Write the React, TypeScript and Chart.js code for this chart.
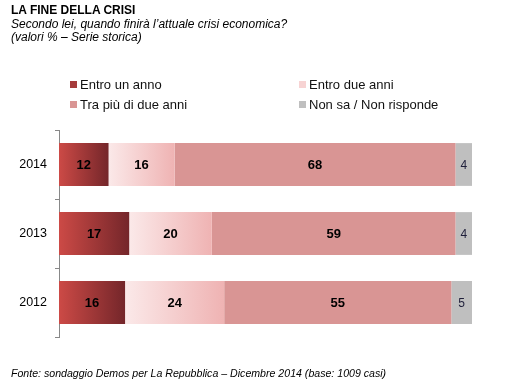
import React, { useEffect, useRef } from "react";
import { Chart, registerables } from "chart.js";

Chart.register(...registerables);

const years = ["2014", "2013", "2012"];
const entroUnAnno = [12, 17, 16];
const entroDueAnni = [16, 20, 24];
const traPiuDiDueAnni = [68, 59, 55];
const nonSa = [4, 4, 5];

const seriesNames = ["Entro un anno", "Entro due anni", "Tra più di due anni", "Non sa / Non risponde"];
const legendColors = ["#a53b3b", "#f7d3d3", "#d99594", "#bfbfbf"];

const FONT = "Arial, 'Liberation Sans', sans-serif";

function gradientFill(stops: [string, string] | null, solid: string) {
  return (ctx: any) => {
    if (!stops) return solid;
    const chart = ctx.chart;
    const xs = chart.scales?.x;
    if (!xs || ctx.type !== "data") return stops[1];
    const ds = chart.data.datasets;
    let start = 0;
    for (let d = 0; d < ctx.datasetIndex; d++) start += (ds[d].data[ctx.dataIndex] as number) || 0;
    const end = start + ((ds[ctx.datasetIndex].data[ctx.dataIndex] as number) || 0);
    const x0 = xs.getPixelForValue(start);
    const x1 = xs.getPixelForValue(end);
    if (!isFinite(x0) || !isFinite(x1) || x0 === x1) return stops[1];
    const g = chart.ctx.createLinearGradient(x0, 0, x1, 0);
    g.addColorStop(0, stops[0]);
    g.addColorStop(1, stops[1]);
    return g;
  };
}

const labelPlugin = {
  id: "barLabels",
  afterDatasetsDraw(chart: any) {
    const ctx = chart.ctx;
    ctx.save();
    ctx.textAlign = "center";
    ctx.textBaseline = "middle";
    chart.data.datasets.forEach((ds: any, di: number) => {
      const meta = chart.getDatasetMeta(di);
      meta.data.forEach((bar: any, i: number) => {
        const v = ds.data[i];
        const cx = (bar.x + bar.base) / 2;
        if (di === 3) {
          ctx.font = `12px ${FONT}`;
          ctx.fillStyle = "#1f1f3a";
        } else {
          ctx.font = `bold 13px ${FONT}`;
          ctx.fillStyle = "#000000";
        }
        ctx.fillText(String(v), cx, bar.y + 1);
      });
    });
    ctx.restore();
  },
};

export default function App() {
  const ref = useRef<HTMLCanvasElement>(null);

  useEffect(() => {
    document.body.style.margin = "0";
    const canvas = ref.current!;
    const chart = new Chart(canvas, {
      type: "bar",
      data: {
        labels: years,
        datasets: [
          { label: seriesNames[0], data: entroUnAnno, backgroundColor: gradientFill(["#cc4a46", "#74262a"], "") },
          { label: seriesNames[1], data: entroDueAnni, backgroundColor: gradientFill(["#fbe9e9", "#efb3b3"], "") },
          { label: seriesNames[2], data: traPiuDiDueAnni, backgroundColor: gradientFill(null, "#d99594") },
          { label: seriesNames[3], data: nonSa, backgroundColor: gradientFill(null, "#bfbfbf") },
        ],
      },
      options: {
        indexAxis: "y",
        responsive: false,
        animation: false,
        maintainAspectRatio: false,
        layout: { padding: { left: 0, right: 54, top: 130, bottom: 50 } },
        datasets: {
          bar: { categoryPercentage: 1, barPercentage: 0.62, borderWidth: 0 },
        },
        plugins: {
          legend: { display: false },
          tooltip: { enabled: false },
          title: { display: false },
        },
        scales: {
          x: { stacked: true, min: 0, max: 100, display: false },
          y: {
            stacked: true,
            afterFit: (s: any) => {
              s.width = 59;
            },
            border: { display: true, color: "#888888", width: 1 },
            grid: {
              offset: true,
              drawOnChartArea: false,
              drawTicks: true,
              tickLength: 4,
              color: "#888888",
            },
            ticks: {
              padding: 8,
              color: "#000000",
              font: { family: FONT, size: 12.5 },
            },
          },
        },
      },
      plugins: [labelPlugin],
    });
    return () => chart.destroy();
  }, []);

  const textBase: React.CSSProperties = {
    position: "absolute",
    fontFamily: FONT,
    color: "#000",
    whiteSpace: "nowrap",
    lineHeight: "13px",
  };

  return (
    <div style={{ position: "fixed", left: 0, top: 0, width: 526, height: 387, background: "#fff", overflow: "hidden" }}>
      <canvas ref={ref} width={526} height={387} style={{ position: "absolute", left: 0, top: 0, width: 526, height: 387 }} />
      <div style={{ ...textBase, left: 11, top: 4, fontSize: 12, fontWeight: "bold" }}>LA FINE DELLA CRISI</div>
      <div style={{ ...textBase, left: 11, top: 18, fontSize: 12, fontStyle: "italic" }}>
        Secondo lei, quando finirà l’attuale crisi economica?
      </div>
      <div style={{ ...textBase, left: 11, top: 31, fontSize: 12, fontStyle: "italic" }}>(valori % – Serie storica)</div>
      {seriesNames.map((name, i) => {
        const col = i % 2;
        const row = Math.floor(i / 2);
        const left = col === 0 ? 70 : 299;
        const cy = row === 0 ? 84 : 104;
        return (
          <div key={name} style={{ position: "absolute", left, top: cy - 8, height: 16, display: "flex", alignItems: "center" }}>
            <span style={{ display: "inline-block", width: 7, height: 7, background: legendColors[i], marginRight: 3 }} />
            <span style={{ fontFamily: FONT, fontSize: 13, color: "#111", whiteSpace: "nowrap" }}>{name}</span>
          </div>
        );
      })}
      <div style={{ ...textBase, left: 11, top: 367, fontSize: 10.6, fontStyle: "italic" }}>
        Fonte: sondaggio Demos per La Repubblica – Dicembre 2014 (base: 1009 casi)
      </div>
    </div>
  );
}
